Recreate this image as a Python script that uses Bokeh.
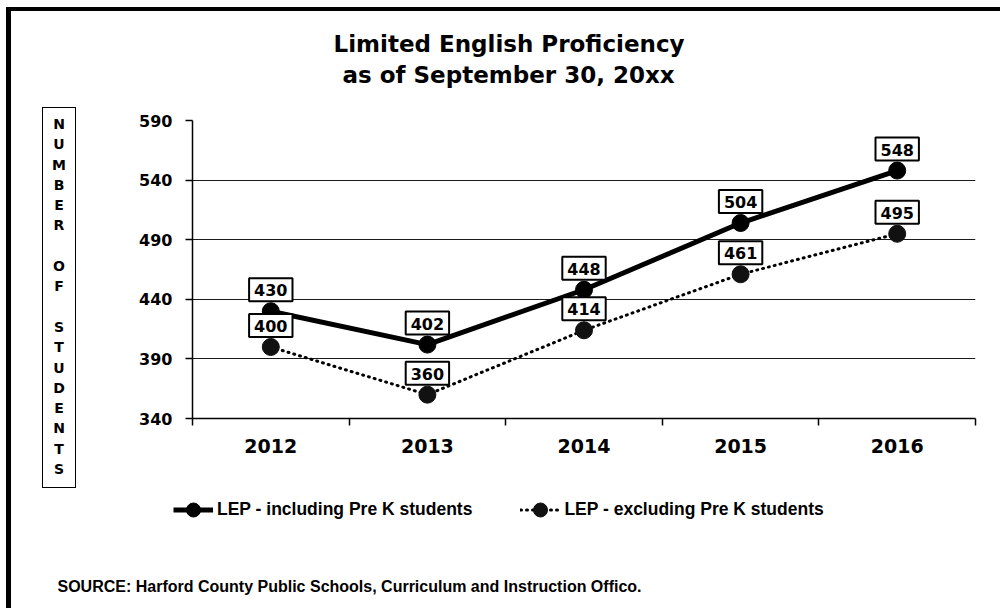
from bokeh.plotting import figure
from bokeh.layouts import row, column
from bokeh.models import (Range1d, LinearAxis, FixedTicker, Label, Legend,
                          LegendItem, ColumnDataSource, Grid, Title, Div)
from bokeh.embed import file_html
from bokeh.resources import INLINE

# ---- data ----
years = ["2012", "2013", "2014", "2015", "2016"]
incl = [430, 402, 448, 504, 548]
excl = [400, 360, 414, 461, 495]
y_ticks = [340, 390, 440, 490, 540, 590]
grid_ticks = [390, 440, 490, 540]
title1 = "Limited English Proficiency"
title2 = "as of September 30, 20xx"
y_title = "NUMBER OF STUDENTS"
source_note = "SOURCE:  Harford County Public Schools, Curriculum and Instruction Offico."
legend_labels = ["LEP - including Pre K students", "LEP - excluding Pre K students"]

BF = "DejaVu Sans"
LF = "Liberation Sans"

xs = list(range(1, len(years) + 1))
bounds = [i + 0.5 for i in range(len(years) + 1)]
src = ColumnDataSource(dict(x=xs, incl=incl, excl=excl))


def bare(fig):
    for g in fig.grid:
        g.visible = False
    fig.border_fill_color = None


# ---- left strip: framed, stacked y-axis title ----
stacked = "<br>".join(ch if ch != " " else "&nbsp;" for ch in y_title)
ytitle_div = Div(width=80, height=490, margin=0, text=(
    '<div style="margin:107px 0 0 42px;width:34px;height:381px;box-sizing:border-box;'
    'border:1.5px solid #000;background:#fff;padding-top:6px;text-align:center;'
    "font-family:'DejaVu Sans';font-weight:bold;font-size:14px;line-height:20.3px;"
    'color:#000">' + stacked + '</div>'))

# ---- main chart ----
p = figure(width=920, height=490, output_backend="svg", toolbar_location=None,
           x_range=Range1d(0.5, len(years) + 0.5), y_range=Range1d(340, 590),
           x_axis_location=None, y_axis_location=None,
           min_border_left=112, min_border_right=25, min_border_top=120,
           min_border_bottom=72)
bare(p)
p.background_fill_color = "white"
p.outline_line_color = None

p.add_layout(Grid(dimension=1, ticker=FixedTicker(ticks=grid_ticks),
                  grid_line_color="#1a1a1a", grid_line_width=1))

yax = LinearAxis(ticker=FixedTicker(ticks=y_ticks),
                 axis_line_color="black", axis_line_width=1.5,
                 major_tick_line_color="black", major_tick_line_width=1.5,
                 major_tick_in=0, major_tick_out=7, minor_tick_line_color=None,
                 major_label_standoff=13,
                 major_label_text_font=BF, major_label_text_font_style="bold",
                 major_label_text_font_size="16px", major_label_text_color="black")
p.add_layout(yax, "left")

xl = LinearAxis(ticker=FixedTicker(ticks=xs, minor_ticks=bounds),
                major_label_overrides={x: y for x, y in zip(xs, years)},
                axis_line_color="black", axis_line_width=1.5,
                major_tick_line_color=None, major_tick_in=0, major_tick_out=0,
                minor_tick_line_color="black", minor_tick_line_width=1.5,
                minor_tick_in=0, minor_tick_out=7,
                major_label_standoff=13,
                major_label_text_font=BF, major_label_text_font_style="bold",
                major_label_text_font_size="19px", major_label_text_color="black")
p.add_layout(xl, "below")

LINE1 = dict(line_color="black", line_width=5)
LINE2 = dict(line_color="black", line_width=3, line_dash="1 5", line_cap="round")
DOT1 = dict(size=17, fill_color="black", line_color="black")
DOT2 = dict(size=17, fill_color="#111111", line_color="#111111")

p.line("x", "incl", source=src, **LINE1)
p.scatter("x", "incl", source=src, **DOT1)
p.line("x", "excl", source=src, **LINE2)
p.scatter("x", "excl", source=src, **DOT2)

for series in (incl, excl):
    for x, v in zip(xs, series):
        p.add_layout(Label(x=x, y=v, text=str(v), y_offset=10,
                           text_align="center", text_baseline="bottom",
                           text_font=BF, text_font_style="bold", text_font_size="16px",
                           text_color="black",
                           background_fill_color="white",
                           border_line_color="black", border_line_width=2,
                           padding=dict(left=5, right=5, top=6, bottom=5)))

# titles (above panel, nearest the frame first)
p.add_layout(Title(text=" ", text_font_size="22px", standoff=4), "above")
p.add_layout(Title(text=title2, align="left", offset=150, standoff=4,
                   text_font=BF, text_font_style="bold", text_font_size="23px",
                   text_color="black"), "above")
p.add_layout(Title(text=title1, align="left", offset=141, standoff=2,
                   text_font=BF, text_font_style="bold", text_font_size="23px",
                   text_color="black"), "above")

# ---- bottom strip: legend + source ----
pb = figure(width=1000, height=118, output_backend="svg", toolbar_location=None,
            x_range=Range1d(0, 1000), y_range=Range1d(0, 118),
            x_axis_location=None, y_axis_location=None,
            min_border_left=0, min_border_right=0, min_border_top=0,
            min_border_bottom=0)
bare(pb)
pb.background_fill_color = None
pb.outline_line_color = None
# legend proxies share the series styles (their data lie outside this strip's view)
k1 = pb.line("x", "incl", source=src, **LINE1)
d1 = pb.scatter("x", "incl", source=src, **DOT1)
k2 = pb.line("x", "excl", source=src, **LINE2)
d2 = pb.scatter("x", "excl", source=src, **DOT2)

legend = Legend(items=[LegendItem(label=legend_labels[0], renderers=[k1, d1]),
                       LegendItem(label=legend_labels[1], renderers=[k2, d2])],
                location=(173, 81), orientation="horizontal",
                glyph_width=40, glyph_height=35, label_height=35,
                label_standoff=4, spacing=48, padding=0, margin=0,
                border_line_color=None, background_fill_alpha=0,
                label_text_font=LF, label_text_font_style="bold",
                label_text_font_size="17.5px", label_text_color="black")
pb.add_layout(legend)

pb.add_layout(Label(x=57, y=22, x_units="screen", y_units="screen", text=source_note,
                    text_align="left", text_baseline="alphabetic",
                    text_font=LF, text_font_style="bold", text_font_size="16px",
                    text_color="black"))

layout = column(row(ytitle_div, p, spacing=0), pb, spacing=0)
layout.styles = {"box-shadow": "inset 6px 7px 0 0 white, inset 11px 11px 0 0 #000"}

open("out.html", "w").write(file_html(layout, INLINE))
